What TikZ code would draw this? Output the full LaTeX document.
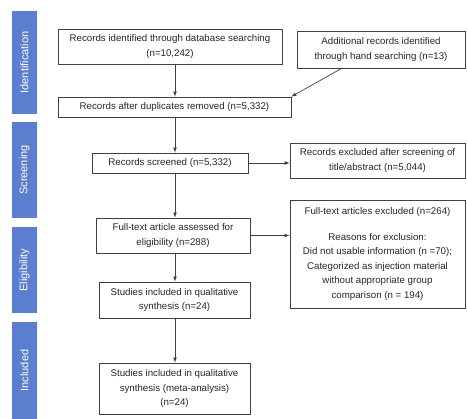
\documentclass[tikz,border=0pt]{standalone}
\usepackage{fontspec}
\setmainfont{Liberation Sans}
\usetikzlibrary{calc}
\usetikzlibrary{positioning}
\usetikzlibrary{arrows}

\definecolor{stageblue}{RGB}{91,126,206}
\definecolor{linegray}{RGB}{64,64,64}

\begin{document}
\begin{tikzpicture}[x=1pt,y=-1pt,
  box/.style={draw=linegray, line width=0.8pt, align=center, inner sep=2pt,
    text=black!85, font=\fontsize{9.7}{14.5}\selectfont},
  stage/.style={fill=stageblue, text=white, rotate=90, minimum height=25pt,
    inner sep=0pt, font=\fontsize{11}{12}\selectfont},
  link/.style={draw=linegray, line width=0.7pt, -latex}]
					\useasboundingbox (0,0) rectangle (467,419);

					% stages on the left
					\node[stage, minimum width=103pt] (S1) at (24.5,62.5) {Identification};
					\node[stage, minimum width=96pt] (S2) at (24.5,170) {Screening};
					\node[stage, minimum width=86pt] (S3) at (24.5,270) {Eligibility};
					\node[stage, minimum width=97pt] (S4) at (24.5,370.5) {Included};

					% boxes
					\node[box, minimum width=224pt, minimum height=35pt] (A) at (170,46.5)
						{Records identified through database searching\\(n=10,242)};
					\node[box, minimum width=168pt, minimum height=37pt] (B) at (381,49.5)
						{Additional records identified\\through hand searching (n=13)};
					\node[box, minimum width=233pt, minimum height=20pt] (C) at (174.5,107)
						{Records after duplicates removed (n=5,332)};
					\node[box, minimum width=156pt, minimum height=20pt] (D) at (170,163)
						{Records screened (n=5,332)};
					\node[box, minimum width=175pt, minimum height=35pt] (E) at (377.5,160.5)
						{Records excluded after screening of\\title/abstract (n=5,044)};
					\node[box, minimum width=154pt, minimum height=35pt] (F) at (173,235.5)
						{Full-text article assessed for\\eligibility (n=288)};
					\node[box, minimum width=175pt, minimum height=108pt] (G) at (377.5,254)
						{Full-text articles excluded (n=264)\\[11pt]Reasons for exclusion:\\
						Did not usable information (n =70);\\Categorized as injection material\\
						without appropriate group\\comparison (n = 194)};
					\node[box, minimum width=151pt, minimum height=36pt] (H) at (174.5,300)
						{Studies included in qualitative\\synthesis (n=24)};
					\node[box, minimum width=151pt, minimum height=51pt] (I) at (174.5,388.5)
						{Studies included in qualitative\\synthesis (meta-analysis)\\(n=24)};

					% connectors
					\coordinate (spine) at (175,0);
					\draw[link] (A.south -| spine) -- (C.north -| spine);
					\draw[link] ([xshift=45pt]B.south west) -- (C.north east);
					\draw[link] (C.south -| spine) -- (D.north -| spine);
					\draw[link] (D.east) -- (D.east -| E.west);
					\draw[link] (D.south -| spine) -- (F.north -| spine);
					\draw[link] (F.east) -- (F.east -| G.west);
					\draw[link] (F.south -| spine) -- (H.north -| spine);
					\draw[link] (H.south -| spine) -- (I.north -| spine);
                \end{tikzpicture}
\end{document}
